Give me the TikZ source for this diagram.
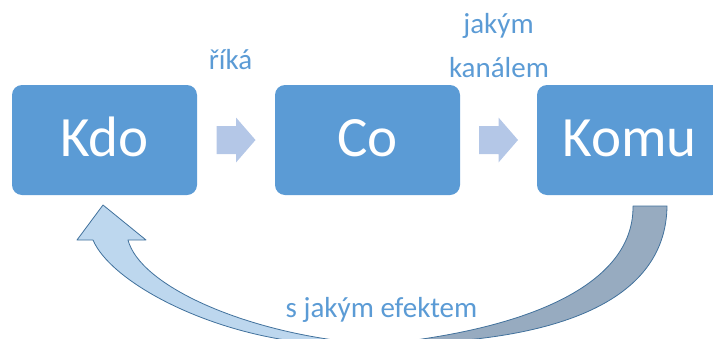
\documentclass[tikz,border=0pt]{standalone}
\usepackage{fontspec}
\setmainfont{Carlito}
\usetikzlibrary{calc}
\definecolor{boxblue}{HTML}{5B9BD5}
\definecolor{chevron}{HTML}{B4C7E7}
\definecolor{labelblue}{HTML}{5B9BD5}
\definecolor{bandlight}{HTML}{BDD7EE}
\definecolor{banddark}{HTML}{97ABC0}
\definecolor{bandedge}{HTML}{41719C}

\begin{document}
\begin{tikzpicture}[x=1pt,y=-1pt,
  stagebox/.style={fill=boxblue, rounded corners=10pt, minimum width=185pt,
    minimum height=110pt, inner sep=0pt, text=white, text height=32pt, text depth=0pt,
    font=\fontsize{57}{60}\selectfont},
  caption/.style={text=labelblue, font=\fontsize{29}{34}\selectfont, anchor=base, inner sep=0pt},
  band/.style={draw=bandedge, line width=0.8pt, line join=round},
  flowarrow/.style={fill=chevron},
  ]
\useasboundingbox (0,0) rectangle (713,338);
\clip (0,0) rectangle (713,338);

% the three stages
\node[stagebox] (kdo)  at (104.5,140) {Kdo};
\node[stagebox] (co)   at (367.5,140) {Co};
\node[stagebox] (komu) at (629.5,140) {Komu};

% block arrows between the stages
\coordinate (a1) at ($(kdo.east)!0.5!(co.west)$);
\coordinate (a2) at ($(co.east)!0.5!(komu.west)$);
\foreach \c in {a1,a2}{
  \fill[flowarrow] ([shift={(-19.5,-14)}]\c) -- ([shift={(0,-14)}]\c) -- ([shift={(0,-22.5)}]\c)
    -- ([shift={(19.5,0)}]\c) -- ([shift={(0,22.5)}]\c) -- ([shift={(0,14)}]\c)
    -- ([shift={(-19.5,14)}]\c) -- cycle;
}

% captions
\node[caption] (rika)   at (230.5,69) {říká};
\node[caption] (jakym)  at (498.5,33) {jakým};
\node[caption] (kanal)  at (499,77)   {kanálem};
\node[caption] (efekt)  at (381.5,317) {s jakým efektem};

% feedback band: back part coming down from Komu
\coordinate (tailin)  at (633,206);
\coordinate (tailout) at (667,206);
\filldraw[band, fill=banddark] (tailin) -- (tailout)
  .. controls (666,300) and (560,338) .. (420,343)
  -- (400,342)
  .. controls (540,325) and (634,280) .. (tailin)
  -- cycle;

% feedback band: front part rising to Kdo, with its arrow head
\coordinate (tip) at (103,205);
\filldraw[band, fill=bandlight] (93,240) -- (77,240) -- (tip) -- (146,240) -- (128,240)
  .. controls (140,285) and (240,330) .. (350,342)
  -- (300,342)
  .. controls (200,330) and (110,280) .. (93,240)
  -- cycle;
\end{tikzpicture}
\end{document}
